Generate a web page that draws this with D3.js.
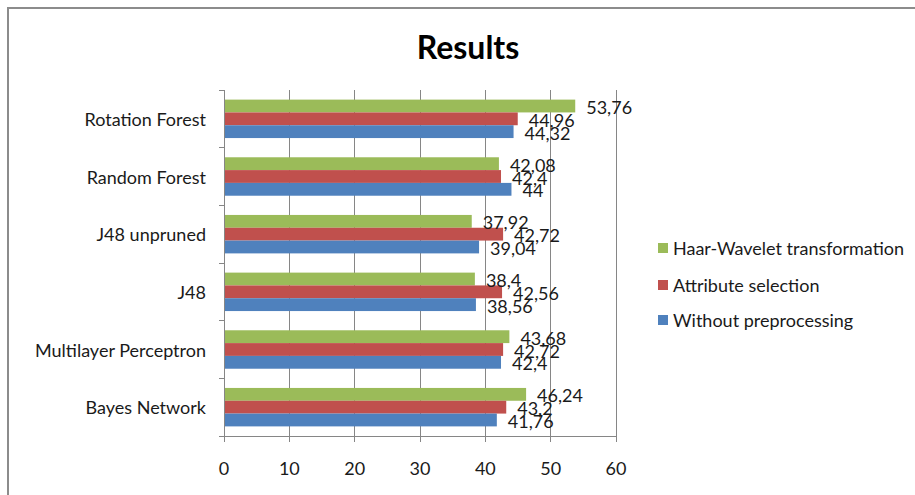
<!DOCTYPE html>
<html><head><meta charset="utf-8">
<script src="https://cdn.jsdelivr.net/npm/d3@7"></script>
<style>
html,body{margin:0;padding:0;background:#fff;}
text{font-family:Lato,"Open Sans",sans-serif;fill:#1a1a1a;}
</style></head>
<body>
<svg id="c" width="915" height="495"></svg>
<script>
const categories = ["Rotation Forest","Random Forest","J48 unpruned","J48","Multilayer Perceptron","Bayes Network"];
const seriesNames = ["Haar-Wavelet transformation","Attribute selection","Without preprocessing"];
const seriesColors = ["#9BBB59","#C0504D","#4F81BD"];
const haarValues = [53.76, 42.08, 37.92, 38.4, 43.68, 46.24];
const attrValues = [44.96, 42.4, 42.72, 42.56, 42.72, 43.2];
const withoutValues = [44.32, 44, 39.04, 38.56, 42.4, 41.76];
const xTicks = [0,10,20,30,40,50,60];
const title = "Results";

const seriesValues = [haarValues, attrValues, withoutValues];
const svg = d3.select("#c");

// frame
svg.append("rect").attr("x",8).attr("y",8).attr("width",930).attr("height",520)
  .attr("fill","none").attr("stroke","#8c8c8c").attr("stroke-width",2);

svg.append("text").attr("x",468).attr("y",46).attr("text-anchor","middle")
  .attr("dominant-baseline","central").style("font-size","32px").style("font-weight","bold")
  .style("fill","#000").text(title);

const x = d3.scaleLinear().domain([0,60]).range([224,616]);
const y0 = d3.scaleBand().domain(categories).range([90,436]);
const y1 = d3.scaleBand().domain(seriesNames).range([0,y0.bandwidth()]).paddingOuter(0.75).paddingInner(0);

const grid = "#868686";
const fs = "18px";
// gridlines
svg.append("g").selectAll("line").data(xTicks).join("line")
  .attr("x1",d=>x(d)).attr("x2",d=>x(d)).attr("y1",90).attr("y2",442)
  .attr("stroke",grid).attr("stroke-width",1).attr("shape-rendering","crispEdges");
// axis lines
svg.append("line").attr("x1",219).attr("x2",616).attr("y1",436).attr("y2",436)
  .attr("stroke",grid).attr("shape-rendering","crispEdges");
svg.append("g").selectAll("line").data(categories).join("line")
  .attr("x1",219).attr("x2",224).attr("y1",d=>y0(d)).attr("y2",d=>y0(d))
  .attr("stroke",grid).attr("shape-rendering","crispEdges");

// tick labels
svg.append("g").selectAll("text").data(xTicks).join("text")
  .attr("x",d=>x(d)).attr("y",468).attr("text-anchor","middle").attr("dominant-baseline","central")
  .style("font-size",fs).text(d=>d);

// category labels
svg.append("g").selectAll("text").data(categories).join("text")
  .attr("x",206).attr("y",d=>y0(d)+y0.bandwidth()/2).attr("text-anchor","end")
  .attr("dominant-baseline","central").style("font-size",fs).text(d=>d);

// bars
const fmt = v => String(v).replace(".",",");
seriesNames.forEach((s,si)=>{
  const g = svg.append("g");
  g.selectAll("rect").data(categories).join("rect")
    .attr("x",x(0)).attr("y",(c)=>y0(c)+y1(s))
    .attr("width",(c,i)=>x(seriesValues[si][i])-x(0)).attr("height",y1.bandwidth())
    .attr("fill",seriesColors[si]);
});
svg.append("line").attr("x1",224).attr("x2",224).attr("y1",90).attr("y2",436)
  .attr("stroke",grid).attr("shape-rendering","crispEdges");
seriesNames.forEach((s,si)=>{
  svg.append("g").selectAll("text").data(categories).join("text")
    .attr("x",(c,i)=>x(seriesValues[si][i])+11)
    .attr("y",(c)=>y0(c)+y1(s)+y1.bandwidth()/2+1)
    .attr("dominant-baseline","central").style("font-size",fs)
    .text((c,i)=>fmt(seriesValues[si][i]));
});

// legend
const leg = svg.append("g");
const legY = [248,285,320];
seriesNames.forEach((s,i)=>{
  leg.append("rect").attr("x",658).attr("y",legY[i]-5).attr("width",10).attr("height",10).attr("fill",seriesColors[i]);
  leg.append("text").attr("x",673).attr("y",legY[i]).attr("dominant-baseline","central")
    .style("font-size",fs).text(s);
});
</script>
</body></html>
